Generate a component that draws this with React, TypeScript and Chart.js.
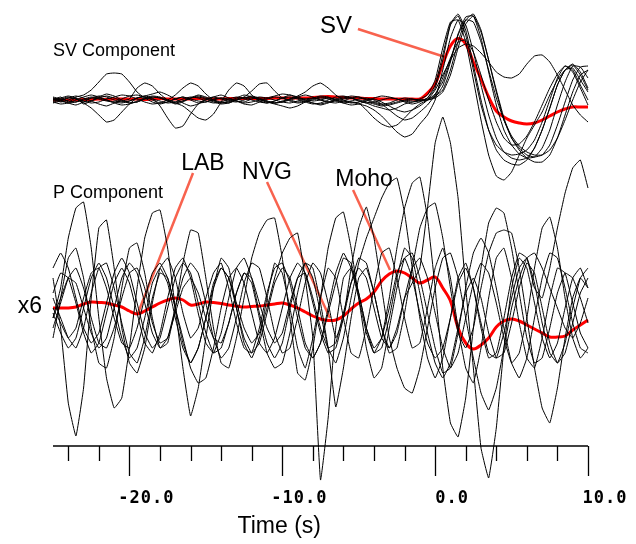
import { useEffect, useRef } from 'react';
import { Chart, registerables } from 'chart.js';

Chart.register(...registerables);

// ---- Time axis (s) ----
const T_START = -25;
const T_END = 10;
const T_STEP = 0.5;
const TIME: number[] = [];
for (let i = 0; i <= Math.round((T_END - T_START) / T_STEP); i++) TIME.push(T_START + i * T_STEP);

const MINOR_TICKS = [-24, -22, -20, -18, -16, -14, -12, -10, -8, -6, -4, -2, 0, 2, 4, 6, 8, 10];
const MAJOR_TICKS = [-20, -10, 0, 10];
const TICK_LABELS = ['-20.0', '-10.0', '0.0', '10.0'];
const X_TITLE = 'Time (s)';

// trace baselines (amplitude units)
const SV_BASE = 346;
const P_BASE = 138;
const Y_MIN = 0;
const Y_MAX = 438;

// ---- SV component ----
const SV_STACK = [
  0, 0, 0, 0, 0.5, 0.5, 1, 0.5, 1, 1,
  1, 1, 0.5, 1, 1.5, 1, 1, 1, 1, 1.5,
  1, 1, 1, 1.5, 1.5, 1.5, 1.5, 1.5, 1.5, 2,
  2, 2, 2, 2, 2.5, 3, 3.5, 3, 2.5, 2,
  2, 1.5, 1.5, 1, 1, 1, 1, 1, 1, 7,
  16, 36, 54, 61.5, 56, 38, 21, 3, -11, -17,
  -21, -23, -24, -23, -20, -16, -12, -9, -7, -7,
  -7,
];
const SV_1 = [
  0, 3, -2, 2, -4, -1, 3, 6, 4, 0,
  -3, -2, 1, 3, 2, -1, -4, -2, 2, 5,
  3, 0, -2, -3, 0, 2, 4, 2, -1, -3,
  -2, 1, 3, 5, 3, 0, -2, -3, -1, 2,
  3, 1, -2, -4, -3, 0, 2, 1, -1, 2,
  12, 40, 75, 84, 65, 30, -5, -30, -45, -52,
  -55, -54, -50, -40, -22, 0, 22, 34, 30, 15,
  0,
];
const SV_2 = [
  2, 0, -3, -5, -2, 2, 4, 3, 0, -2,
  -1, 2, 4, 6, 8, 5, 1, -3, -6, -4,
  0, 3, 5, 2, -1, -4, -5, -2, 1, 3,
  2, 0, -2, -1, 2, 4, 3, 0, -3, -5,
  -4, -1, 2, 4, 3, 1, -1, -2, -1, 0,
  3, 14, 38, 66, 83, 84, 62, 28, -5, -30,
  -45, -54, -58, -57, -48, -30, -5, 18, 34, 33,
  22,
];
const SV_3 = [
  -3, -1, 2, 4, 2, -1, -4, -6, -3, 1,
  4, 5, 3, 0, -3, -2, 1, 3, 1, -1,
  -2, 0, 2, 1, -1, -3, -2, 0, 2, 4,
  6, 5, 2, -1, -3, -4, -2, 1, 3, 2,
  -1, -3, -6, -8, -10, -8, -4, -2, 0, 1,
  4, 10, 30, 58, 80, 86, 70, 40, 8, -20,
  -38, -48, -55, -57, -55, -45, -25, -2, 20, 33,
  34,
];
const SV_4 = [
  1, -2, 0, 3, 5, 10, 18, 26, 27, 26,
  18, 8, 2, -2, -4, -2, 1, 3, 0, -3,
  -2, 1, 2, 0, -1, -2, 1, 3, 2, 0,
  -2, -3, -1, 1, 2, 0, -2, -1, 1, 2,
  0, -2, -4, -6, -5, -3, -1, 0, 1, 5,
  20, 52, 78, 80, 58, 20, -20, -55, -76, -80,
  -72, -55, -38, -25, -12, 5, 20, 30, 32, 20,
  8,
];
const SV_5 = [
  -2, 0, 2, 1, -3, -8, -15, -22, -20, -12,
  -4, 2, 4, 2, -6, -18, -28, -26, -14, -4,
  1, 3, 1, -1, -2, 0, 2, 1, -1, -3,
  -2, 0, 2, 1, -1, 0, 2, 1, -1, -3,
  -2, 0, 1, -2, -6, -10, -12, -10, -6, 0,
  10, 25, 40, 52, 56, 54, 47, 38, 28, 23,
  22, 26, 36, 44, 45, 38, 25, 10, -5, -15,
  -22,
];
const SV_6 = [
  3, 1, -1, -2, 0, 2, 1, -1, -2, -1,
  1, 12, 17, 14, 6, 0, -3, -1, 2, 4,
  2, -1, -3, -1, 2, 5, 3, 0, -2, -3,
  -1, 1, 4, 8, 14, 17, 12, 5, 0, -2,
  -4, -6, -10, -16, -24, -32, -37, -34, -24, -15,
  0, 30, 62, 80, 75, 48, 15, -15, -38, -52,
  -58, -60, -58, -48, -30, -8, 15, 30, 36, 28,
  12,
];
const SV_7 = [
  0, 2, 4, 2, -1, -3, -2, 1, 3, 5,
  4, 1, -2, -4, -3, 0, 5, 12, 17, 14,
  6, 0, -3, -2, 1, 3, 9, 16, 17, 9,
  2, -1, -3, -2, 0, 2, 1, -1, -3, -2,
  -3, -10, -18, -24, -27, -25, -18, -10, -4, 0,
  6, 18, 40, 65, 80, 78, 58, 30, 2, -20,
  -36, -46, -52, -55, -55, -50, -38, -20, 0, 18,
  30,
];
const SV_8 = [
  -1, 1, 3, 1, -2, -1, 2, 4, 2, -1,
  -3, -2, 1, 3, 2, -1, -3, -6, -12, -18,
  -20, -14, -2, 10, 17, 14, 5, -1, -3, -1,
  2, 3, 1, -2, -4, -3, 0, 3, 4, 2,
  -1, -3, -2, 0, 2, 1, -2, -4, -2, 2,
  15, 45, 76, 86, 70, 35, 0, -30, -50, -60,
  -64, -65, -60, -48, -30, -8, 15, 30, 35, 25,
  10,
];
const SV_9 = [
  2, -1, -3, -2, 1, 3, 2, 0, -2, -3,
  -1, 2, 3, 1, -1, -3, -2, 1, 3, 2,
  -1, -3, -2, 1, 3, 2, 0, -2, -3, -1,
  2, 5, 3, 0, -3, -5, -3, 0, 2, 4,
  3, 0, -3, -5, -4, -2, 0, 1, 0, 0,
  2, 8, 25, 52, 76, 84, 68, 40, 10, -18,
  -38, -50, -58, -62, -62, -55, -38, -15, 8, 25,
  30,
];
const SV_10 = [
  -2, -4, -3, 0, 3, 5, 3, 0, -3, -5,
  -4, -1, 2, 4, 3, 0, -2, -1, 2, 3,
  1, -2, -4, -3, 0, 2, 3, 1, -2, -4,
  -6, -8, -6, -2, 1, 3, 2, 0, -2, -1,
  1, 2, 0, -4, -10, -16, -20, -18, -12, -5,
  5, 22, 42, 58, 60, 48, 25, 0, -22, -38,
  -45, -44, -36, -22, -5, 12, 26, 34, 28, 12,
  -5,
];

// ---- P component (x6) ----
const P_STACK = [
  0, 0, 0, 1, 4, 6, 5.5, 5, 3, 1,
  -3, -6, -3, 1, 5, 8, 10, 8, 3, 4,
  6, 5.5, 4.5, 3, 2, 1, 1.5, 2, 3, 4,
  5, 3, 0, -4, -8, -11, -12.5, -12, -8, -1,
  5, 9, 16, 27, 34, 37, 35, 30, 25, 28,
  31, 20, 7, -20, -35, -41, -37, -30, -19, -13,
  -11, -13, -17, -21, -25, -29, -29, -28, -22, -17,
  -12,
];
const P_1 = [
  30, -20, -95, -128, -80, 10, 80, 88, 40, -20,
  -55, -65, -40, 5, 40, 50, 30, -5, -30, -20,
  10, 35, 45, 20, -15, -40, -45, -20, 15, 40,
  45, 25, -10, -40, -50, -35, -5, 25, 50, 45,
  15, -20, -45, -40, -10, 30, 60, 50, 15, -25,
  -55, -70, -55, -20, 15, 30, 10, -25, -50, -45,
  -15, 20, 45, 35, 0, -35, -55, -45, -15, 15,
  30,
];
const P_2 = [
  -10, 20, 70, 100, 106, 60, -10, -70, -100, -90,
  -40, 20, 70, 95, 98, 60, 0, -60, -108, -80,
  -30, 20, 50, 40, 0, -35, -50, -30, 10, 45,
  35, 0, -40, -60, -30, 10, 40, 30, -10, -45,
  -50, -20, 20, 55, 60, 30, -10, -40, -35, 0,
  40, 60, 30, -20, -60, -75, -40, 10, 50, 60,
  30, -15, -50, -60, -30, 10, 40, 35, 5, -25,
  -40,
];
const P_3 = [
  -30, 10, 50, 60, 30, -20, -55, -60, -30, 20,
  60, 65, 35, -10, -40, -35, 0, 45, 78, 75,
  30, -20, -55, -60, -30, 10, 50, 75, 88, 90,
  50, -10, -65, -72, -40, 10, 60, 90, 96, 60,
  10, -40, -70, -60, -20, 20, 50, 55, 30, -5,
  -40, -65, -60, -25, 20, 55, 70, 55, 20, -20,
  -55, -70, -50, -10, 30, 55, 50, 20, -15, -40,
  -45,
];
const P_4 = [
  10, -10, -30, -40, -20, 15, 40, 45, 20, -15,
  -45, -55, -30, 10, 35, 30, 0, -35, -55, -40,
  -10, 20, 40, 30, 5, -20, -35, -25, 0, 30,
  55, 70, 75, 30, -30, -172, -110, -20, 30, 40,
  15, -20, -40, -30, 0, 35, 50, 30, -5, -35,
  -50, -40, -10, 25, 40, 20, -15, -45, -50, -25,
  10, 40, 50, 25, -15, -45, -55, -35, 0, 30,
  40,
];
const P_5 = [
  -20, 5, 30, 40, 20, -10, -35, -40, -20, 10,
  35, 40, 20, -15, -35, -30, -5, 20, 30, 15,
  -10, -30, -35, -15, 15, 35, 30, 5, -20, -35,
  -25, 5, 30, 35, 10, -20, -40, -35, -5, 25,
  40, 30, 0, -30, -40, -20, 10, 25, 40, 100,
  165, 191, 165, 110, 20, -60, -140, -170, -120, -40,
  20, 50, 40, 5, -30, -50, -35, 0, 30, 40,
  20,
];
const P_6 = [
  15, 35, 30, 5, -25, -45, -35, -5, 25, 40,
  25, -5, -35, -45, -25, 10, 40, 50, 30, -5,
  -35, -45, -25, 10, 40, 50, 30, -5, -35, -50,
  -35, 0, 30, 45, 30, -5, -40, -55, -30, 10,
  45, 70, 90, 110, 125, 130, 95, 40, -10, -50,
  -70, -50, -10, 30, 45, 20, -20, -50, -45, -10,
  30, 55, 50, 20, 10, 40, 80, 115, 140, 148,
  120,
];
const P_7 = [
  -5, -25, -40, -30, 0, 30, 45, 30, 0, -30,
  -50, -40, -10, 25, 40, 25, -10, -40, -55, -40,
  -10, 25, 40, 30, 0, -30, -45, -35, -5, 25,
  40, 30, 0, -35, -50, -35, 0, 35, 55, 40,
  10, -25, -45, -30, 10, 60, 100, 125, 131, 90,
  20, -60, -115, -129, -90, -20, 40, 85, 100, 95,
  60, 15, -30, -55, -50, -20, 15, 35, 30, 10,
  -15,
];
const P_8 = [
  40, 55, 40, 10, -20, -35, -25, 5, 35, 50,
  35, 5, -25, -40, -30, 0, 30, 45, 35, 5,
  -25, -45, -40, -15, 15, 35, 25, -10, -45, -60,
  -55, -25, 15, 45, 40, 5, -40, -99, -60, -10,
  30, 40, 15, -20, -40, -25, 10, 40, 50, 30,
  -5, -40, -60, -45, -10, 25, 45, 35, 5, -30,
  -55, -45, -10, 40, 80, 91, 60, 10, -30, -50,
  -40,
];
const P_9 = [
  -10, 10, 30, 25, 0, -25, -40, -30, 0, 30,
  45, 35, 5, -25, -40, -30, 0, 30, 45, 35,
  5, -30, -50, -40, -10, 25, 45, 40, 10, -25,
  -45, -40, -10, 25, 45, 35, 5, -30, -10, 40,
  80, 101, 70, 20, -30, -60, -80, -85, -60, -20,
  20, 50, 55, 30, -10, -50, -85, -102, -80, -40,
  0, 30, 50, 55, 40, 20, 0, -20, -30, -15,
  10,
];
const P_10 = [
  0, -15, -30, -20, 10, 35, 40, 20, -10, -35,
  -40, -20, 10, 35, 45, 30, 0, -30, -60, -75,
  -70, -40, 0, 30, 40, 25, -5, -35, -45, -30,
  0, 30, 45, 35, 5, -25, -45, -40, -10, 25,
  50, 45, 15, -20, -45, -40, -5, 40, 80, 100,
  105, 70, 20, -25, -40, -20, 20, 55, 75, 78,
  75, 40, -10, -60, -100, -115, -80, -30, 10, 30,
  20,
];

const SV_TRACES = [SV_1, SV_2, SV_3, SV_4, SV_5, SV_6, SV_7, SV_8, SV_9, SV_10];
const P_TRACES = [P_1, P_2, P_3, P_4, P_5, P_6, P_7, P_8, P_9, P_10];

// ---- annotations: label, text anchor (t, value), pointer from/to (t, value) ----
const ANNOT_LABELS = ['SV', 'LAB', 'NVG', 'Moho'];
const ANNOT_TEXT_POS = [[-6.49, 413], [-15.19, 276], [-11.0, 267], [-4.65, 260]];
const ANNOT_FROM = [[-5.05, 417], [-15.84, 273], [-11.0, 264], [-5.37, 256]];
const ANNOT_TO = [[0.65, 389], [-19.44, 133], [-6.88, 128], [-2.95, 176]];

const PANEL_TITLES = ['SV Component', 'P Component'];
const PANEL_TITLE_Y = [390, 248];
const GAIN_LABEL = 'x6';

const SANS = '"Liberation Sans", Arial, Helvetica, sans-serif';
const MONO = '"DejaVu Sans Mono", "Liberation Mono", monospace';

const decorPlugin = {
  id: 'decor',
  beforeDatasetsDraw(chart: any) {
    const { ctx, scales } = chart;
    const x = scales.x;
    const y = scales.y;
    const y0 = y.getPixelForValue(0);
    ctx.save();
    ctx.strokeStyle = '#000';
    ctx.lineWidth = 1.6;
    ctx.beginPath();
    ctx.moveTo(x.getPixelForValue(T_START), y0);
    ctx.lineTo(x.getPixelForValue(T_END), y0);
    ctx.stroke();
    ctx.lineWidth = 1.3;
    for (const t of MINOR_TICKS) {
      const px = Math.round(x.getPixelForValue(t)) + 0.5;
      const len = MAJOR_TICKS.includes(t) ? 30 : 15;
      ctx.beginPath();
      ctx.moveTo(px, y0);
      ctx.lineTo(px, y0 + len);
      ctx.stroke();
    }
    // tick labels
    ctx.fillStyle = '#000';
    ctx.font = 'bold 17px ' + MONO;
    (ctx as any).letterSpacing = '1px';
    ctx.textAlign = 'left';
    ctx.textBaseline = 'alphabetic';
    MAJOR_TICKS.forEach((t, i) => {
      const label = TICK_LABELS[i];
      const w = ctx.measureText(label).width;
      const cx = x.getPixelForValue(t) + 17;
      ctx.fillText(label, cx - w / 2, y0 + 57);
    });
    (ctx as any).letterSpacing = '0px';
    // axis title
    ctx.font = '23px ' + SANS;
    ctx.textAlign = 'center';
    ctx.fillText(X_TITLE, x.getPixelForValue(-10.2), y0 + 87);
    ctx.restore();
  },
  afterDatasetsDraw(chart: any) {
    const { ctx, scales, chartArea } = chart;
    const x = scales.x;
    const y = scales.y;
    ctx.save();
    ctx.fillStyle = '#000';
    ctx.textBaseline = 'alphabetic';
    // panel titles
    ctx.font = '18px ' + SANS;
    ctx.textAlign = 'left';
    PANEL_TITLES.forEach((s, i) => ctx.fillText(s, chartArea.left, y.getPixelForValue(PANEL_TITLE_Y[i])));
    // gain label
    ctx.font = '23px ' + SANS;
    ctx.textAlign = 'right';
    ctx.fillText(GAIN_LABEL, chartArea.left - 11, y.getPixelForValue(P_BASE) + 5);
    // annotation labels
    ctx.textAlign = 'center';
    ANNOT_LABELS.forEach((s, i) => {
      ctx.font = (s === 'SV' ? '24px ' : '23px ') + SANS;
      ctx.fillText(s, x.getPixelForValue(ANNOT_TEXT_POS[i][0]), y.getPixelForValue(ANNOT_TEXT_POS[i][1]));
    });
    ctx.restore();
  },
};

export default function App() {
  const ref = useRef<HTMLCanvasElement | null>(null);
  useEffect(() => {
    if (!ref.current) return;
    const mk = (amps: number[], base: number) => TIME.map((t, i) => ({ x: t, y: base + amps[i] }));
    const datasets: any[] = [];
    SV_TRACES.forEach((a) =>
      datasets.push({ data: mk(a, SV_BASE), borderColor: '#000', borderWidth: 1, tension: 0.15, clip: false }),
    );
    P_TRACES.forEach((a) =>
      datasets.push({ data: mk(a, P_BASE), borderColor: '#000', borderWidth: 1, tension: 0.1, clip: false }),
    );
    datasets.push({ data: mk(SV_STACK, SV_BASE), borderColor: '#ff0000', borderWidth: 3, tension: 0.35, clip: false });
    datasets.push({ data: mk(P_STACK, P_BASE), borderColor: '#ff0000', borderWidth: 3, tension: 0.35, clip: false });
    ANNOT_FROM.forEach((f, i) =>
      datasets.push({
        data: [{ x: f[0], y: f[1] }, { x: ANNOT_TO[i][0], y: ANNOT_TO[i][1] }],
        borderColor: 'rgb(248,98,78)',
        borderWidth: 2.5,
        tension: 0,
        clip: false,
      }),
    );
    const chart = new Chart(ref.current, {
      type: 'line',
      data: { datasets },
      options: {
        animation: false,
        responsive: false,
        events: [],
        layout: { padding: { left: 53, right: 48, top: 8, bottom: 98 } },
        elements: { point: { radius: 0 } },
        plugins: { legend: { display: false }, tooltip: { enabled: false } },
        scales: {
          x: { type: 'linear', min: T_START, max: T_END, display: false },
          y: { type: 'linear', min: Y_MIN, max: Y_MAX, display: false },
        },
      },
      plugins: [decorPlugin],
    });
    return () => chart.destroy();
  }, []);
  return (
    <div style={{ position: 'absolute', left: 0, top: 0, width: 636, height: 544, background: '#fff' }}>
      <canvas ref={ref} width={636} height={544} style={{ width: 636, height: 544, display: 'block' }} />
    </div>
  );
}
